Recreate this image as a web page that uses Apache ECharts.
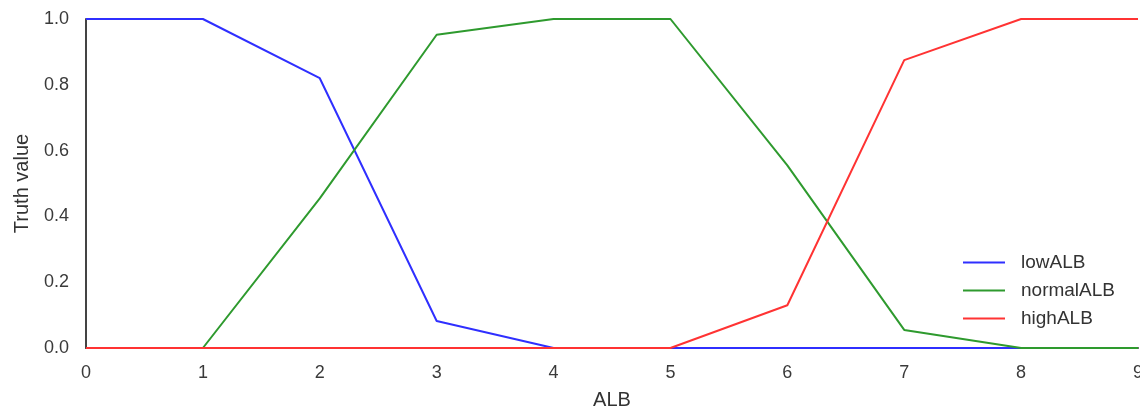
<!DOCTYPE html>
<html>
<head>
<meta charset="utf-8">
<script src="https://cdn.jsdelivr.net/npm/echarts@6/dist/echarts.min.js"></script>
<style>
html,body{margin:0;padding:0;background:#fff;}
#chart{width:1140px;height:410px;}
</style>
</head>
<body>
<div id="chart"></div>
<script>
var xValues = [0, 1, 2, 3, 4, 5, 6, 7, 8, 9];
var lowALB = [1, 1, 0.82, 0.082, 0, 0, 0, 0, 0, 0];
var normalALB = [0, 0, 0.455, 0.952, 1, 1, 0.555, 0.055, 0, 0];
var highALB = [0, 0, 0, 0, 0, 0, 0.13, 0.875, 1, 1];
var seriesNames = ['lowALB', 'normalALB', 'highALB'];
var seriesColors = ['#2f2fff', '#2e9a2e', '#ff3333'];

function pairs(ys) { return xValues.map(function (x, i) { return [x, ys[i]]; }); }
var allData = [lowALB, normalALB, highALB];

var font = 'Liberation Sans, Arial, sans-serif';
var chart = echarts.init(document.getElementById('chart'), null, {renderer: 'canvas'});
chart.setOption({
  animation: false,
  backgroundColor: '#fff',
  grid: {left: 86, right: 2, top: 19, bottom: 62, containLabel: false, outerBoundsMode: 'none'},
  legend: {
    orient: 'vertical',
    left: 958,
    top: 248,
    itemWidth: 42,
    itemHeight: 2,
    itemGap: 9,
    icon: 'rect',
    textStyle: {fontFamily: font, fontSize: 19, color: '#333', padding: [0, 0, 0, 11]},
    data: seriesNames
  },
  xAxis: {
    type: 'value', min: 0, max: 9, interval: 1,
    name: 'ALB', nameLocation: 'middle', nameGap: 42,
    nameTextStyle: {fontFamily: font, fontSize: 20, color: '#333'},
    axisLine: {show: true, lineStyle: {color: '#444', width: 2}},
    axisTick: {show: false},
    splitLine: {show: false},
    axisLabel: {fontFamily: font, fontSize: 18, color: '#3a3a3a', margin: 16}
  },
  yAxis: {
    type: 'value', min: 0, max: 1, interval: 0.2,
    name: 'Truth value', nameLocation: 'middle', nameGap: 54, nameRotate: 90,
    nameTextStyle: {fontFamily: font, fontSize: 20, color: '#333'},
    axisLine: {show: true, lineStyle: {color: '#444', width: 2}},
    axisTick: {show: false},
    splitLine: {show: false},
    axisLabel: {fontFamily: font, fontSize: 18, color: '#3a3a3a', margin: 17,
      formatter: function (v) { return v.toFixed(1); }}
  },
  series: seriesNames.map(function (n, i) {
    return {
      name: n, type: 'line', data: pairs(allData[i]),
      symbol: 'none', lineStyle: {width: 2, color: seriesColors[i]},
      itemStyle: {color: seriesColors[i]}, z: 2 + i
    };
  })
});
</script>
</body>
</html>
